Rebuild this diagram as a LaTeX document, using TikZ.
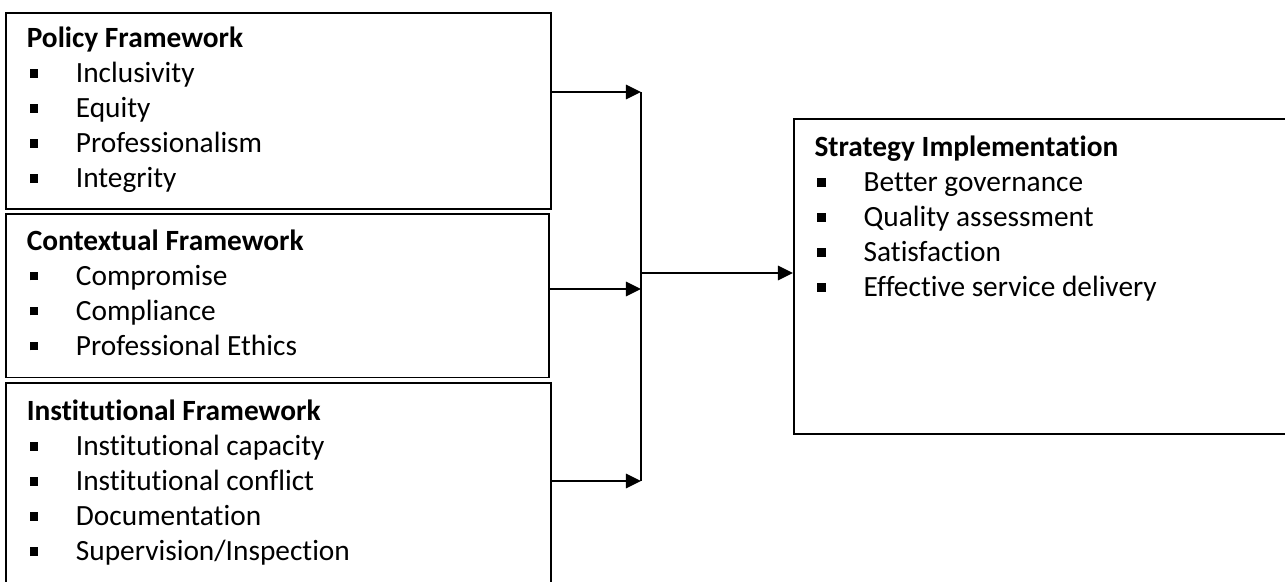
\documentclass[tikz,border=0pt]{standalone}
\usepackage{fontspec}
\setmainfont{Carlito}[Ligatures=NoCommon]
\usetikzlibrary{arrows.meta,positioning}
\newcommand{\sqitem}[1]{\makebox[18.9pt][l]{\hspace{1.1pt}\rule[1.9pt]{3.3pt}{3.3pt}}#1}
\tikzset{
  frame/.style={draw,line width=0.6pt,anchor=north west,align=flush left,inner xsep=8.1pt,inner ysep=0pt,
    font=\fontsize{11.3}{13.5}\selectfont},
  flow/.style={line width=1.1pt,-{Triangle[length=5.8pt,width=5.4pt]}},
  trunk/.style={line width=0.5pt}
}

\begin{document}
\begin{tikzpicture}[x=0.385pt,y=-0.385pt]
        \useasboundingbox (0,0) rectangle (1285,581);
        \clip (0,0) rectangle (1285,581);
        \node[frame,text width=193.6pt,minimum height=75.5pt] (policy) at (5,12)
              {\strut\textbf{Policy Framework}\\ \sqitem{Inclusivity}\\ \sqitem{Equity}\\
               \sqitem{Professionalism}\\ \sqitem{Integrity}\strut};
        \node[frame,text width=192.9pt,minimum height=63.1pt] (context) at (5,213)
              {\strut\textbf{Contextual Framework}\\ \sqitem{Compromise}\\ \sqitem{Compliance}\\
               \sqitem{Professional Ethics}\strut};
        \node[frame,text width=193.6pt,minimum height=77.8pt] (inst) at (5,382)
              {\strut\textbf{Institutional Framework}\\ \sqitem{Institutional capacity}\\
               \sqitem{Institutional conflict}\\ \sqitem{Documentation}\\
               \sqitem{Supervision/Inspection}\strut};
        \node[frame,minimum width=192.5pt,minimum height=121.3pt] (impl) at (793,118) {};
        \node[align=flush left,inner sep=0pt,font=\fontsize{11.3}{13.5}\selectfont,
              below right=5.2pt and 8.1pt of impl.north west] (implText)
              {\strut\textbf{Strategy Implementation}\\ \sqitem{Better governance}\\
               \sqitem{Quality assessment}\\ \sqitem{Satisfaction}\\
               \sqitem{Effective service delivery}};
        % joining line
        \coordinate (j1) at (641,92);
        \coordinate (j2) at (641,289);
        \coordinate (j3) at (641,481);
        \coordinate (jm) at (641,273);
        \draw[trunk] (j1) -- (j3);
        \draw[flow] (policy.east |- j1) -- (j1);
        \draw[flow] (context.east |- j2) -- (j2);
        \draw[flow] (inst.east |- j3) -- (j3);
        \draw[flow] (jm) -- (jm -| impl.west);
    \end{tikzpicture}
\end{document}
